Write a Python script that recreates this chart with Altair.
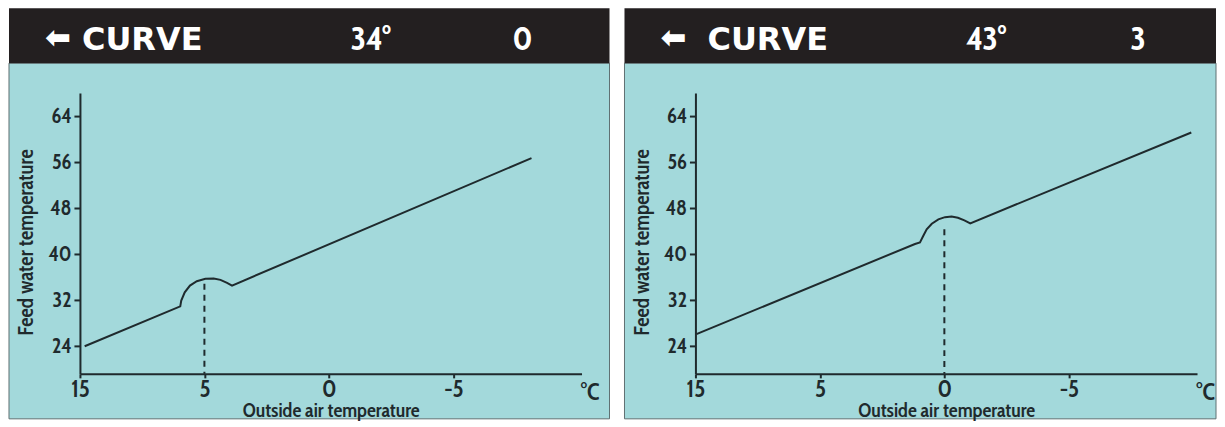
import json
import subprocess
import altair as alt
import pandas as pd

# ---------------- data ----------------
X_TICK_VALUES = [0, 1, 2, 3]
X_TICK_LABELS = ["15", "5", "0", "-5"]
X_UNIT = "°C"
X_UNIT_POS = 4.1
X_DOMAIN = [0, 4.03]
Y_TICKS = [24, 32, 40, 48, 56, 64]
Y_DOMAIN = [19.2, 68]

HEADER_ARROW = "⬅"
HEADER_TITLE = "CURVE"
HEADER_TEMPS = ["34°", "43°"]
HEADER_VALUES = ["0", "3"]

X_TITLE = "Outside air temperature"
Y_TITLE = "Feed water temperature"

LEFT_X = [0.038, 0.806, 0.814, 0.842, 0.884, 0.939, 1.008, 1.075, 1.129, 1.182, 1.222, 3.628]
LEFT_Y = [24.0, 30.93, 31.93, 33.38, 34.55, 35.31, 35.72, 35.78, 35.54, 35.02, 34.55, 56.7]
LEFT_MARK_X = 1
LEFT_MARK_Y = 34.85

RIGHT_X = [0.008, 1.764, 1.804, 1.831, 1.858, 1.899, 1.952, 2.005, 2.058, 2.109, 2.161, 2.208, 3.984]
RIGHT_Y = [26.1, 41.78, 42.05, 43.2, 44.34, 45.3, 46.05, 46.44, 46.56, 46.33, 45.88, 45.37, 61.15]
RIGHT_MARK_X = 2
RIGHT_MARK_Y = 44.34


# ---------------- fonts ----------------
def installed_families():
    fams = set()
    try:
        out = subprocess.run(["fc-list", ":", "family"], capture_output=True, text=True).stdout
        for line in out.splitlines():
            for f in line.split(","):
                fams.add(f.strip())
    except Exception:
        pass
    return fams


FAMS = installed_families()


def pick(cands, fallback):
    for c in cands:
        if c in FAMS:
            return c
    return fallback


NARROW = pick(["Cabin Condensed", "PT Sans Narrow", "Fira Sans Condensed", "Open Sans Condensed",
               "Archivo Narrow", "Liberation Sans Narrow"], "DejaVu Sans Condensed")
HEAD = "DejaVu Sans"

# ---------------- style ----------------
TEAL = "#a3d9db"
DARK = "#231f20"
INK = "#1f2a2d"
BORDER = "#5f7072"
W, H = 502, 281

label_expr = "%s[datum.value]" % json.dumps(X_TICK_LABELS)


def panel(xs, ys, mark_x, mark_y, temp, val, right_extent, title_x):
    xscale = alt.Scale(domain=X_DOMAIN, nice=False, zero=False)
    yscale = alt.Scale(domain=Y_DOMAIN, nice=False, zero=False)
    curve_df = pd.DataFrame({"x": xs, "y": ys, "i": list(range(len(xs)))})
    one = pd.DataFrame({
        "arrow": [HEADER_ARROW], "title": [HEADER_TITLE], "temp": [temp], "val": [val],
        "unit": [X_UNIT], "ux": [X_UNIT_POS],
        "mx": [mark_x], "my": [mark_y], "mbot": [Y_DOMAIN[0]],
    })

    bg = alt.Chart(one).mark_rect(color=TEAL, stroke=BORDER, strokeWidth=1).encode(
        x=alt.value(-71), x2=alt.value(right_extent), y=alt.value(-30), y2=alt.value(326))
    hdr = alt.Chart(one).mark_rect(color=DARK).encode(
        x=alt.value(-71), x2=alt.value(right_extent), y=alt.value(-85), y2=alt.value(-30))
    arrow = alt.Chart(one).mark_text(color="white", font="DejaVu Sans", fontSize=31,
                                     fontWeight="bold", align="center", baseline="middle").encode(
        text="arrow:N", x=alt.value(-22), y=alt.value(-54))
    title = alt.Chart(one).mark_text(color="white", font=HEAD, fontSize=32,
                                     fontWeight="bold", align="left", baseline="alphabetic").encode(
        text="title:N", x=alt.value(title_x), y=alt.value(-43))
    tmp = alt.Chart(one).mark_text(color="white", font=NARROW, fontSize=33,
                                   fontWeight="bold", align="center", baseline="alphabetic").encode(
        text="temp:N", x=alt.value(291), y=alt.value(-43))
    vv = alt.Chart(one).mark_text(color="white", font=NARROW, fontSize=33,
                                  fontWeight="bold", align="center", baseline="alphabetic").encode(
        text="val:N", x=alt.value(443), y=alt.value(-43))

    dashed = alt.Chart(one).mark_rule(color=INK, strokeWidth=2, strokeDash=[6, 5]).encode(
        x=alt.X("mx:Q", scale=xscale),
        y=alt.Y("my:Q", scale=yscale),
        y2="mbot:Q",
    )
    line = alt.Chart(curve_df).mark_line(color=INK, strokeWidth=2).encode(
        x=alt.X("x:Q", scale=xscale,
                axis=alt.Axis(values=X_TICK_VALUES, labelExpr=label_expr, grid=False, zindex=1,
                              domainColor=INK, domainWidth=2, tickColor=INK, tickWidth=2, tickSize=4,
                              labelFont=NARROW, labelFontSize=24, labelFontWeight=600, labelColor=INK,
                              labelPadding=0, labelFlush=False,
                              title=X_TITLE, titleFont=NARROW, titleFontSize=20, titleFontWeight=600,
                              titleColor=INK, titleX=W / 2, titleY=43, titleAlign="center",
                              titleBaseline="alphabetic")),
        y=alt.Y("y:Q", scale=yscale,
                axis=alt.Axis(values=Y_TICKS, grid=False, zindex=1,
                              domainColor=INK, domainWidth=2, tickColor=INK, tickWidth=2, tickSize=6,
                              labelFont=NARROW, labelFontSize=21, labelFontWeight=600, labelColor=INK,
                              labelPadding=3,
                              title=Y_TITLE, titleFont=NARROW, titleFontSize=21, titleFontWeight=600,
                              titleColor=INK, titleX=-47, titleY=149, titleAngle=-90, titleAlign="center",
                              titleBaseline="alphabetic")),
        order="i:Q",
    )
    unit = alt.Chart(one).mark_text(color=INK, font=NARROW, fontSize=24, fontWeight=600, align="center",
                                    baseline="middle").encode(
        text="unit:N", x=alt.X("ux:Q", scale=xscale), y=alt.value(300))

    return alt.layer(bg, hdr, arrow, title, tmp, vv, dashed, line, unit).properties(width=W, height=H)


left = panel(LEFT_X, LEFT_Y, LEFT_MARK_X, LEFT_MARK_Y, HEADER_TEMPS[0], HEADER_VALUES[0], 530, 2)
right = panel(RIGHT_X, RIGHT_Y, RIGHT_MARK_X, RIGHT_MARK_Y, HEADER_TEMPS[1], HEADER_VALUES[1], 521, 12)

chart = alt.hconcat(left, right, spacing=114, bounds="flush").configure_view(stroke=None).properties(
    padding=0, background="white")

chart.save("out.html", embed_options={"renderer": "svg", "actions": False})
